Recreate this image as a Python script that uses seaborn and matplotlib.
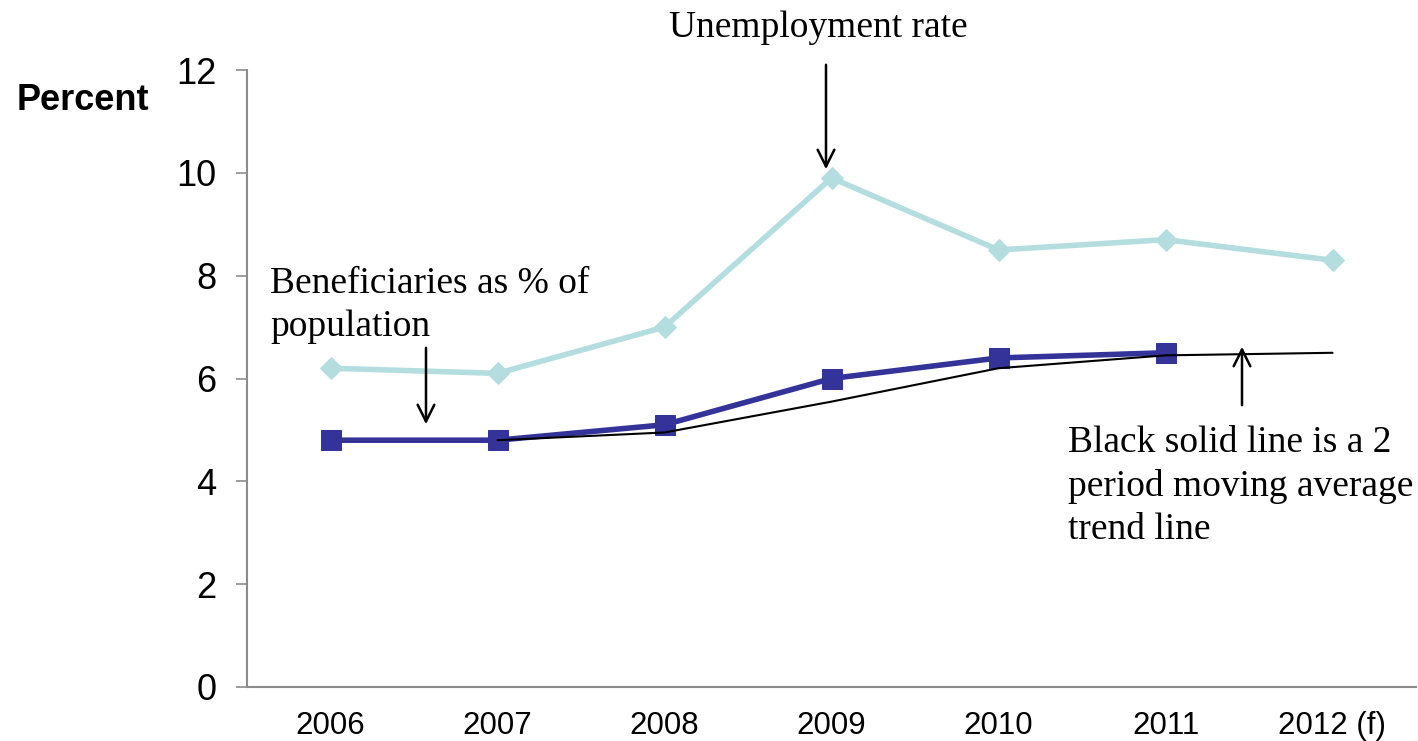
import matplotlib
matplotlib.use("Agg")
import matplotlib.pyplot as plt
import seaborn as sns
import pandas as pd
import numpy as np

years = ["2006", "2007", "2008", "2009", "2010", "2011", "2012 (f)"]
unemployment = [6.2, 6.1, 7.0, 9.9, 8.5, 8.7, 8.3]
beneficiaries = [4.8, 4.8, 5.1, 6.0, 6.4, 6.5, np.nan]
trend = [np.nan, 4.8, 4.95, 5.55, 6.2, 6.45, 6.5]
yticks = [0, 2, 4, 6, 8, 10, 12]

sns.set_theme(style="white")
plt.rcParams['font.family'] = ['Liberation Sans', 'DejaVu Sans']
plt.rcParams['text.color'] = 'black'
plt.rcParams['xtick.color'] = 'black'
plt.rcParams['ytick.color'] = 'black'

df = pd.DataFrame({"year": years, "unemp": unemployment,
                   "benef": beneficiaries, "trend": trend})
df["pos"] = np.arange(len(years))

fig = plt.figure(figsize=(14.18, 7.41), dpi=100)
ax = fig.add_axes([247/1418, 1-687/741, (1416-247)/1418, (687-70)/741])

sns.lineplot(data=df, x="pos", y="unemp", ax=ax, color="#B4DDE0", lw=4.0,
             marker="D", markersize=11, markeredgecolor="#B4DDE0")
sns.lineplot(data=df, x="pos", y="benef", ax=ax, color="#333399", lw=4.0,
             marker="s", markersize=14, markeredgecolor="#333399")
sns.lineplot(data=df, x="pos", y="trend", ax=ax, color="black", lw=1.5)

ax.set_xlim(-0.5, len(years) - 0.5)
ax.set_ylim(0, 12)
ax.set_yticks(yticks)
ax.set_yticklabels([str(t) for t in yticks], fontsize=26, color="black")
ax.set_xticks(np.arange(len(years)))
ax.set_xticklabels(years, fontsize=22.5, color="black")
ax.set_xticks(np.arange(len(years) + 1) - 0.5, minor=True)
ax.tick_params(axis="x", which="major", length=0, pad=17)
ax.tick_params(axis="x", which="minor", length=8, width=1.2, color="#8c8c8c", direction="out")
ax.tick_params(axis="y", which="major", length=8, width=1.2, color="#8c8c8c", direction="out", pad=14, left=True)
ax.set_xlabel("")
ax.set_ylabel("")
for s in ["top", "right"]:
    ax.spines[s].set_visible(False)
for s in ["left", "bottom"]:
    ax.spines[s].set_color("#8c8c8c")
    ax.spines[s].set_linewidth(1.5)
ax.patch.set_alpha(0)

fig.text(17/1418, 1-100/741, "Percent", fontsize=26, fontweight="bold", va="center", ha="left", color="black")

serif = ['Liberation Serif', 'DejaVu Serif']
fig.text(818/1418, 1-28/741, "Unemployment rate", fontsize=27, family=serif, ha="center", va="center", color="black")
fig.text(270/1418, 1-305/741, "Beneficiaries as % of\npopulation", fontsize=27, family=serif,
         ha="left", va="center", linespacing=1.32, color="black")
fig.text(1068/1418, 1-486/741, "Black solid line is a 2\nperiod moving average\ntrend line", fontsize=27,
         family=serif, ha="left", va="center", linespacing=1.32, color="black")

arrowprops = dict(arrowstyle="->", color="black", lw=1.8, mutation_scale=30)
ax.annotate("", xy=(826/1418, 1-172/741), xytext=(826/1418, 1-62/741),
            xycoords="figure fraction", textcoords="figure fraction", arrowprops=arrowprops)
ax.annotate("", xy=(426/1418, 1-427/741), xytext=(426/1418, 1-345/741),
            xycoords="figure fraction", textcoords="figure fraction", arrowprops=arrowprops)
ax.annotate("", xy=(1242/1418, 1-344/741), xytext=(1242/1418, 1-408/741),
            xycoords="figure fraction", textcoords="figure fraction", arrowprops=arrowprops)

fig.savefig("out.png", dpi=100)
